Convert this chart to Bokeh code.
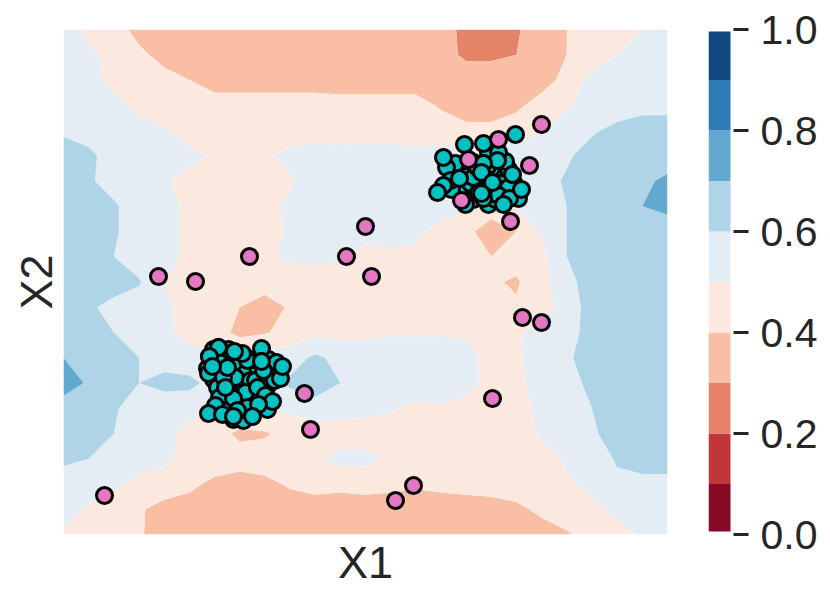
from bokeh.plotting import figure
from bokeh.layouts import row
from bokeh.embed import file_html
from bokeh.resources import INLINE
from bokeh.models import FixedTicker, PrintfTickFormatter
import numpy as np

levels = [0.0, 0.1, 0.2, 0.3, 0.4, 0.5, 0.6, 0.7, 0.8, 0.9, 1.0]
band_colors = ["#870a24", "#c13639", "#e58368", "#f9bfa4", "#fbe9df",
               "#e4edf4", "#b0d4e7", "#62a8cf", "#2f79b5", "#114781"]
cb_ticks = [0.0, 0.2, 0.4, 0.6, 0.8, 1.0]

# probability surface (percent), top row first
z_rows = [
    [55,47,44,37,35,35,35,35,35,35,35,35,35,35,35,33,28,26,29,35,40,44,46,50,54],
    [56,52,47,42,37,36,35,35,35,35,35,35,35,35,34,32,29,29,30,36,40,44,50,54,55],
    [57,54,47,45,43,40,37,37,37,37,37,36,36,36,36,36,33,33,35,36,43,53,56,57,57],
    [58,57,53,47,45,44,43,43,43,43,43,43,43,43,43,39,36,36,38,44,49,53,56,58,58],
    [59,58,56,54,51,47,46,46,46,46,46,46,46,46,45,44,42,42,45,49,54,59,62,63,63],
    [63,61,58,56,55,52,49,48,49,52,54,53,54,54,53,54,55,55,56,57,59,63,64,65,65],
    [63,61,57,55,51,47,48,46,46,49,53,54,53,53,54,55,56,56,56,57,61,64,65,68,72],
    [64,63,61,56,53,48,46,46,47,52,54,53,54,54,54,53,51,46,51,54,60,64,65,70,71],
    [64,63,61,56,53,48,47,46,47,51,54,53,52,52,51,48,43,34,40,51,60,64,65,65,68],
    [64,63,60,55,53,48,47,46,48,52,53,51,48,49,49,49,47,40,43,47,60,64,65,65,65],
    [64,64,63,61,50,46,45,44,44,44,44,44,44,44,44,44,44,41,39,46,58,63,65,65,65],
    [64,61,58,55,52,46,44,40,36,41,44,44,44,44,44,44,44,43,41,45,55,64,65,65,65],
    [64,63,60,55,52,47,45,37,39,44,47,47,48,49,49,49,49,48,49,53,57,63,65,65,65],
    [70,66,64,60,56,53,52,52,55,55,62,57,55,55,55,55,53,47,49,54,59,63,65,65,65],
    [74,69,64,60,63,63,56,55,56,62,65,60,56,55,55,55,53,47,48,53,57,62,65,65,65],
    [66,65,61,56,54,53,50,49,50,52,56,54,53,51,48,49,47,46,47,52,56,60,64,65,65],
    [64,63,60,56,53,47,44,38,39,43,45,45,45,45,45,45,45,45,46,51,55,59,63,64,64],
    [62,60,58,55,52,47,45,44,44,45,48,53,53,48,46,46,46,45,45,47,51,55,61,63,63],
    [55,54,52,47,45,42,38,36,38,41,43,42,43,42,41,42,43,44,45,47,49,52,58,58,58],
    [53,49,44,41,37,36,36,36,36,36,36,36,36,36,36,36,36,36,38,42,45,48,52,53,53],
    [49,45,43,41,36,34,34,34,34,34,34,34,34,34,34,34,34,34,34,36,39,44,47,51,52],
]

teal_x = [405,412,425,432,440,428,445,402,395,388,410,425,432,450,402,410,425,442,
          407,410,414,437,445,425,420,435,434,420,415,435,455,446,420,392,383,387,380,
          165,155,175,190,205,165,195,185,150,168,200,180,165,178,190,160,205,190,150,165,
          155,146,149,144,145,198,179,170,172,187,192,211,217,154,182,194,156,170,202,
          152,204,175,170,180,184,174,160,164,184,179,
          418,396,429,418,440,458,449,380,374,452,420,401,
          198,213,219,200,162,209,195,145,159,189,170,171,155,146,149,198]
teal_y = [365,345,358,345,352,366,365,358,345,345,335,330,335,352,330,372,382,373,
          351,357,367,351,347,369,371,382,374,371,342,339,336,336,336,371,367,354,349,
          175,175,150,165,150,135,138,135,155,125,155,170,145,130,125,130,175,175,185,185,
          187,178,168,166,161,186,163,171,157,154,154,154,156,147,142,147,137,136,139,
          129,125,118,115,114,127,124,157,167,174,181,
          362,356,352,341,330,345,360,377,342,400,391,390,
          173,172,168,164,147,133,130,121,120,118,118,183,187,178,168,173]
pink_x = [478,435,405,466,398,447,302,283,186,308,95,132,459,478,241,429,247,350,332,41]
pink_y = [410,395,375,369,334,313,308,278,278,258,258,253,217,212,141,136,105,49,34,39]

text_color = "#262626"
font = "Liberation Sans"

xs = np.linspace(0, 604, len(z_rows[0]))
ys = np.linspace(0, 505, len(z_rows))
z = np.array(z_rows[::-1], dtype=float) / 100

p = figure(width=688, height=595, x_range=(0, 604), y_range=(0, 505),
           output_backend="svg", toolbar_location=None, sizing_mode="fixed",
           min_border_left=63, min_border_right=21, min_border_top=29, min_border_bottom=61)
p.outline_line_color = None
p.grid.visible = False
p.contour(xs, ys, z, levels=levels, fill_color=band_colors, line_color=None)
p.scatter(teal_x, teal_y, size=16, fill_color="#00c2c2", line_color="black", line_width=3)
p.scatter(pink_x, pink_y, size=16, fill_color="#e377c2", line_color="black", line_width=3)

for ax, label in ((p.xaxis[0], "X1"), (p.yaxis[0], "X2")):
    ax.axis_label = label
    ax.axis_label_text_font = font
    ax.axis_label_text_font_size = "45px"
    ax.axis_label_text_font_style = "normal"
    ax.axis_label_text_color = text_color
    ax.axis_label_standoff = 2
    ax.ticker = FixedTicker(ticks=[])
    ax.axis_line_color = None
    ax.major_tick_line_color = None
    ax.minor_tick_line_color = None
    ax.major_label_text_font_size = "0px"

cb = figure(width=134, height=595, x_range=(0, 25), y_range=(0, 1),
            output_backend="svg", toolbar_location=None, y_axis_location="right",
            sizing_mode="fixed",
            min_border_left=20, min_border_right=89, min_border_top=27, min_border_bottom=58)
cb.outline_line_color = None
cb.grid.visible = False
cb.xaxis.visible = False
bar_bottom = [max(v, 0.006) for v in levels[:-1]]
bar_top = [min(v, 0.996) for v in levels[1:]]
cb.quad(left=0, right=22, bottom=bar_bottom, top=bar_top, fill_color=band_colors, line_color=None)
a = cb.yaxis[0]
a.ticker = FixedTicker(ticks=cb_ticks)
a.formatter = PrintfTickFormatter(format="%.1f")
a.axis_line_color = None
a.major_tick_in = 0
a.major_tick_out = 15
a.major_tick_line_width = 3
a.major_tick_line_color = text_color
a.minor_tick_line_color = None
a.major_label_standoff = 12
a.major_label_text_font = font
a.major_label_text_font_size = "41px"
a.major_label_text_color = text_color

open("out.html", "w").write(file_html(row(p, cb, spacing=0), INLINE))
